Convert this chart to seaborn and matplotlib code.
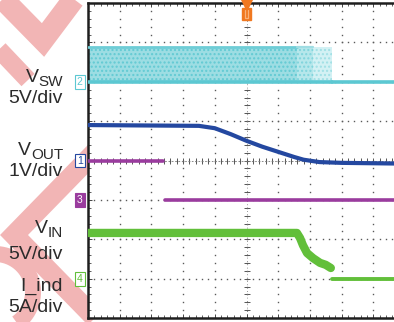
import numpy as np
import pandas as pd
import matplotlib
matplotlib.use("Agg")
import matplotlib.pyplot as plt
import seaborn as sns
from matplotlib.patches import Rectangle

# ---------------- data (time axis in screen divisions, 10 div across) -------------
# Channel 2: switch node V_SW, 5 V/div  -> switching band, then idle
vsw_band_t = [0.0, 6.6, 7.1, 7.7]
vsw_band_hi = [4.4, 4.4, 4.4, 4.4]       # V
vsw_band_lo = [0.0, 0.0, 0.0, 0.0]       # V
vsw_idle_t = [7.7, 10.0]
vsw_idle_v = [0.0, 0.0]

# Channel 1: V_OUT, 1 V/div
vout_t = [0.0, 3.5, 4.0, 4.5, 5.0, 5.5, 6.0, 6.5, 6.8, 7.3, 8.0, 10.0]
vout_v = [0.90, 0.88, 0.82, 0.67, 0.50, 0.35, 0.22, 0.09, 0.02, -0.04, -0.06, -0.08]

# Channel 3 (purple), in divisions
ch3_hi_t = [0.0, 2.37]
ch3_hi_v = [1.0, 1.0]
ch3_lo_t = [2.42, 10.0]
ch3_lo_v = [0.0, 0.0]

# Channel 4 (green), 5 A/div
ch4_t = [0.0, 6.59, 6.69, 6.78, 6.91, 7.10, 7.32, 7.50, 7.66]
ch4_v = [5.8, 5.8, 5.15, 4.25, 3.25, 2.6, 2.0, 1.75, 1.35]
ch4_off_t = [7.70, 10.0]
ch4_off_v = [-0.1, -0.1]

# left-hand labels
label_main = ["V", "5V/div", "V", "1V/div", "V", "5V/div", "I_ind", "5A/div"]
label_sub = ["SW", "", "OUT", "", "IN", "", "", ""]

# ---------------- channel display settings -----------------------------------
ch_scale = {"2": 5.0, "1": 1.0, "3": 1.0, "4": 5.0}    # units / div
ch_pos = {"2": 2.0, "1": 0.0, "3": -1.0, "4": -3.0}    # ground position (div)
ch_col = {"2": "#5cc8d2", "1": "#2448a0", "3": "#9a3c9e", "4": "#62bf3a"}


def to_div(ch, vals):
    return [ch_pos[ch] + v / ch_scale[ch] for v in vals]


plt.rcParams["hatch.linewidth"] = 1.0
W, H = 394, 322
fig = plt.figure(figsize=(W / 100, H / 100), dpi=100)
fig.patch.set_facecolor("white")

# ---------------- background watermark (pixel coordinates) ------------------
bg = fig.add_axes([0, 0, 1, 1], zorder=0)
bg.set_xlim(0, W)
bg.set_ylim(H, 0)
bg.axis("off")
pink = "#f2b5b5"
pt = 72 / 100  # px -> pt
def band(xs, ys, w):
    bg.plot(xs, ys, color=pink, lw=w * pt, solid_capstyle="butt", solid_joinstyle="miter")
band([-8, 43, 82], [-12, 40, -12], 22)
band([-10, 28], [40, 80], 18)
band([95, 14, 95], [152, 235, 318], 20)
theta = np.linspace(-1.2, 1.6, 40)
bg.plot(-5 + 38 * np.cos(theta), 292 - 38 * np.sin(theta), color=pink, lw=16 * pt, solid_capstyle="butt")

# ---------------- scope graticule axes -------------------------------------
x0, y0, gw, gh = 88, 3, 317, 315
ax = fig.add_axes([x0 / W, 1 - (y0 + gh) / H, gw / W, gh / H], zorder=1)
ax.set_facecolor("white")
ax.set_xlim(0, 10)
ax.set_ylim(-4, 4)

sns.set_style("white")

# grid dots
dot_y = np.arange(-4, 4.001, 0.2)
dot_x = np.arange(0, 10.001, 0.2)
for gx in range(1, 10):
    ax.plot([gx] * len(dot_y), dot_y, ls="none", marker="s", ms=1.0, color="#5a5a5a", mew=0, zorder=1)
for gy in range(-3, 4):
    ax.plot(dot_x, [gy] * len(dot_x), ls="none", marker="s", ms=1.0, color="#5a5a5a", mew=0, zorder=1)
# center cross ticks
ax.plot([5] * len(dot_y), dot_y, ls="none", marker="_", ms=4.5, mew=0.7, color="#555555", zorder=1)
ax.plot(dot_x, [0] * len(dot_x), ls="none", marker="|", ms=4.5, mew=0.7, color="#555555", zorder=1)
ax.plot([5, 5], [-4, 4], ls=(0, (1, 3)), lw=0.6, color="#777777", zorder=1)
ax.plot([0, 10], [0, 0], ls=(0, (2, 2)), lw=0.6, color="#777777", zorder=1)

# ---------------- traces ---------------------------------------------------
c2 = ch_col["2"]
hi = to_div("2", vsw_band_hi)
lo = to_div("2", vsw_band_lo)
band_fc = ["#9ddde3", "#b6e7eb", "#d3f1f4"]
band_hc = ["#62cad3", "#7fd4dc", "#a0e0e5"]
for i in range(3):
    ax.fill_between(vsw_band_t[i:i + 2], hi[i:i + 2], lo[i:i + 2], facecolor=band_fc[i],
                    edgecolor=band_hc[i], hatch="....", lw=0, zorder=2)
sns.lineplot(x=vsw_band_t[:2], y=hi[:2], ax=ax, color="#6ecdd6", lw=2.0, estimator=None, sort=False, zorder=3)
sns.lineplot(x=vsw_band_t[1:3], y=hi[1:3], ax=ax, color="#9fdde3", lw=1.6, estimator=None, sort=False, zorder=3)
sns.lineplot(x=vsw_band_t, y=lo, ax=ax, color=c2, lw=2.6, estimator=None, sort=False, zorder=3)
sns.lineplot(x=vsw_idle_t, y=to_div("2", vsw_idle_v), ax=ax, color=c2, lw=2.6,
             estimator=None, sort=False, zorder=3)

sns.lineplot(x=vout_t, y=to_div("1", vout_v), ax=ax, color=ch_col["1"], lw=3.0,
             estimator=None, sort=False, zorder=4)

sns.lineplot(x=ch3_hi_t, y=to_div("3", ch3_hi_v), ax=ax, color=ch_col["3"], lw=2.6,
             estimator=None, sort=False, zorder=4)
sns.lineplot(x=ch3_lo_t, y=to_div("3", ch3_lo_v), ax=ax, color=ch_col["3"], lw=2.6,
             estimator=None, sort=False, zorder=4)

sns.lineplot(x=ch4_t, y=to_div("4", ch4_v), ax=ax, color=ch_col["4"], lw=6.0,
             estimator=None, sort=False, zorder=4)
sns.lineplot(x=ch4_off_t, y=to_div("4", ch4_off_v), ax=ax, color=ch_col["4"], lw=2.8,
             estimator=None, sort=False, zorder=4)

# ---------------- frame & ticks -------------------------------------------
for s in ["left", "top", "bottom"]:
    ax.spines[s].set_linewidth(1.8)
    ax.spines[s].set_color("#1e1e1e")
ax.spines["right"].set_visible(False)
ax.set_xticks(np.arange(0, 10.01, 1))
ax.set_yticks(np.arange(-4, 4.01, 1))
ax.set_xticks(np.arange(0, 10.01, 0.2), minor=True)
ax.set_yticks(np.arange(-4, 4.01, 0.2), minor=True)
ax.tick_params(which="both", direction="in", top=True, bottom=True, left=True, right=False,
               labelbottom=False, labelleft=False, color="#444444")
ax.tick_params(which="major", length=3, width=0.7)
ax.tick_params(which="minor", length=2.2, width=0.6)
ax.set_xlabel("")
ax.set_ylabel("")

# trigger marker
orange = "#f07820"
ax.plot([5], [3.93], marker="v", ms=8, color=orange, mew=0, clip_on=False, zorder=6)
ax.add_patch(Rectangle((4.87, 3.57), 0.26, 0.3, color=orange, clip_on=False, zorder=6))
ax.plot([4.96, 4.96, 5.04, 5.04], [3.82, 3.63, 3.63, 3.82], color="#f9b27a", lw=0.9,
        clip_on=False, zorder=7)

# channel ground markers
for ch, filled in [("2", False), ("1", False), ("3", True), ("4", False)]:
    col = ch_col[ch]
    ax.text(-0.26, ch_pos[ch], ch, ha="center", va="center", fontsize=7.5,
            family="Liberation Sans", color="white" if filled else col, clip_on=False,
            bbox=dict(boxstyle="square,pad=0.18", fc=col if filled else "white", ec=col, lw=0.8),
            zorder=6)

# ---------------- left labels ---------------------------------------------
label_base = [82, 103, 155, 176, 233, 259, 291, 312]
tx = 63
fig.canvas.draw()
rend = fig.canvas.get_renderer()
kw = dict(ha="right", va="baseline", color="#2b2b2b", family="Liberation Sans")
for main, sub, yb in zip(label_main, label_sub, label_base):
    right = tx
    if sub:
        ts = fig.text(tx / W, 1 - (yb + 4) / H, sub, fontsize=11, **kw)
        bb = ts.get_window_extent(renderer=rend)
        right = bb.x0 + 0.5
    fig.text(right / W, 1 - yb / H, main, fontsize=14, **kw)

fig.savefig("out.png", dpi=100)
